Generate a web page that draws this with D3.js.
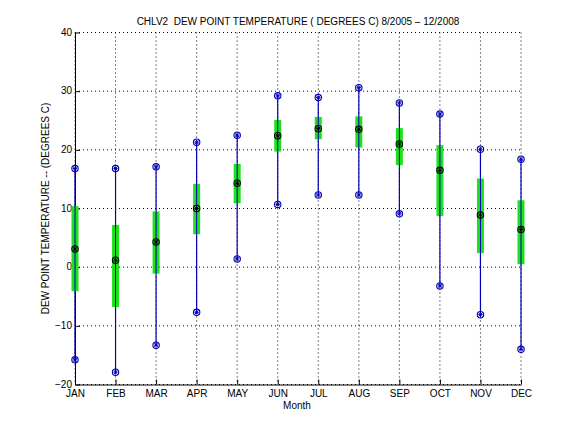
<!DOCTYPE html>
<html><head><meta charset="utf-8">
<script src="https://cdn.jsdelivr.net/npm/d3@7"></script>
<style>body{margin:0;background:#fff}svg{display:block}text{font-family:"Liberation Sans",Arial,Helvetica,sans-serif;white-space:pre}</style>
</head><body><div id="chart"></div>
<script>
const months = ["JAN","FEB","MAR","APR","MAY","JUN","JUL","AUG","SEP","OCT","NOV","DEC"];
const maxVals = [16.8,16.8,17.1,21.3,22.5,29.2,28.9,30.6,28.0,26.1,20.1,18.4];
const minVals = [-15.8,-17.9,-13.3,-7.7,1.4,10.7,12.3,12.3,9.1,-3.2,-8.1,-14.0];
const meanVals = [3.1,1.2,4.3,10.0,14.3,22.4,23.6,23.5,21.0,16.5,8.9,6.4];
const sdHigh = [10.4,7.2,9.5,14.2,17.6,25.1,25.6,25.7,23.7,20.8,15.1,11.4];
const sdLow = [-4.1,-6.8,-1.1,5.6,10.9,19.7,21.8,20.4,17.4,8.7,2.4,0.5];
const yTicks = [-20,-10,0,10,20,30,40];
const titleText = "CHLV2  DEW POINT TEMPERATURE ( DEGREES C) 8/2005 \u2013 12/2008";
const yLabelText = "DEW POINT TEMPERATURE -- (DEGREES C)";
const xLabelText = "Month";

const W = 576, H = 432;
const L = 75, R = 521, T = 32.5, B = 384.5;
const svg = d3.select("#chart").append("svg").attr("width", W).attr("height", H);
const x = d3.scaleLinear().domain([1, 12]).range([L, R]);
const y = d3.scaleLinear().domain([-20, 40]).range([B, T]);
const data = months.map((m, i) => ({m, i: i + 1, max: maxVals[i], min: minVals[i], mean: meanVals[i], hi: sdHigh[i], lo: sdLow[i]}));

// grid
const g = svg.append("g");
g.selectAll(".gx").data(d3.range(1, 13)).join("line")
  .attr("x1", d => x(d)).attr("x2", d => x(d)).attr("y1", T).attr("y2", B)
  .attr("stroke", "#000").attr("stroke-width", 1).attr("stroke-dasharray", "1,3");
g.selectAll(".gy").data(yTicks).join("line")
  .attr("x1", L).attr("x2", R).attr("y1", d => y(d)).attr("y2", d => y(d))
  .attr("stroke", "#000").attr("stroke-width", 1).attr("stroke-dasharray", "1,3");

// axes
const xAxis = d3.axisBottom(x).tickValues(d3.range(1, 13)).tickFormat((d) => months[d - 1]).tickSizeInner(-5).tickSizeOuter(0).tickPadding(5);
const yAxis = d3.axisLeft(y).tickValues(yTicks).tickSizeInner(-5).tickSizeOuter(0).tickPadding(3);
const ax = svg.append("g").attr("transform", `translate(0,${B})`).call(xAxis);
const ay = svg.append("g").attr("transform", `translate(${L},0)`).call(yAxis);
[ax, ay].forEach(a => {
  a.select(".domain").attr("stroke", "#000");
  a.selectAll("text").attr("font-size", 10).attr("fill", "#000");
  a.selectAll(".tick line").attr("stroke", "#000");
});
ay.selectAll(".tick text").attr("dy", "0.28em");

// range lines
svg.selectAll(".rng").data(data).join("line")
  .attr("x1", d => x(d.i)).attr("x2", d => x(d.i))
  .attr("y1", d => y(d.max)).attr("y2", d => y(d.min))
  .attr("stroke", "#0000b4").attr("stroke-width", 1.2);
// sd bars
svg.selectAll(".sd").data(data).join("rect")
  .attr("x", d => x(d.i) - 3.5).attr("width", 7)
  .attr("y", d => y(d.hi)).attr("height", d => y(d.lo) - y(d.hi))
  .attr("fill", "#1fe01f");
svg.selectAll(".rng2").data(data).join("line")
  .attr("x1", d => x(d.i)).attr("x2", d => x(d.i))
  .attr("y1", d => y(d.hi)).attr("y2", d => y(d.lo))
  .attr("stroke", "#0000b4").attr("stroke-width", 1);

function marker(sel, col) {
  sel.append("circle").attr("r", 3.2).attr("fill", "none").attr("stroke", col).attr("stroke-width", 1.1);
  sel.append("path").attr("d", "M-1.8,-1.8L1.8,1.8M-1.8,1.8L1.8,-1.8M0,-2.2L0,2.2M-2.2,0L2.2,0").attr("stroke", col).attr("stroke-width", 1);
}
const pts = [];
data.forEach(d => {
  pts.push({x: d.i, v: d.max, c: "#0000b4"});
  pts.push({x: d.i, v: d.min, c: "#0000b4"});
  pts.push({x: d.i, v: d.mean, c: "#000"});
});
svg.selectAll(".mk").data(pts).join("g")
  .attr("transform", d => `translate(${x(d.x)},${y(d.v)})`)
  .each(function(d) { marker(d3.select(this), d.c); });

// labels
svg.append("text").attr("x", 298).attr("y", 25).attr("text-anchor", "middle").attr("font-size", 10).text(titleText);
svg.append("text").attr("x", 297).attr("y", 409).attr("text-anchor", "middle").attr("font-size", 10).text(xLabelText);
svg.append("text").attr("transform", `translate(49,${(T + B) / 2}) rotate(-90)`).attr("text-anchor", "middle").attr("font-size", 10).text(yLabelText);
</script></body></html>
